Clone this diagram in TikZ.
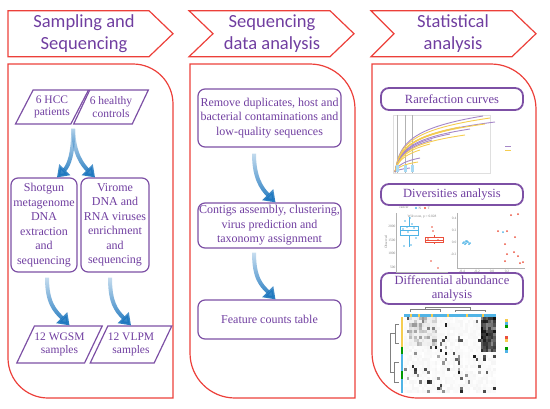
\documentclass[tikz,border=0pt]{standalone}
\usepackage{fontspec}
\setmainfont{Liberation Serif}
\newfontfamily\headfont{Carlito}
\usetikzlibrary{shapes.geometric,arrows.meta,fadings}
\definecolor{panelred}{RGB}{236,64,58}
\definecolor{boxpurple}{RGB}{125,80,165}
\definecolor{txtpurple}{RGB}{112,62,160}
\definecolor{arrowblue}{RGB}{28,118,190}
\definecolor{curvepurple}{RGB}{165,135,200}
\definecolor{curveyellow}{RGB}{245,205,80}
\definecolor{ptblue}{RGB}{80,180,230}
\definecolor{ptred}{RGB}{235,80,60}
\tikzfading[name=arrowfade, top color=transparent!85, bottom color=transparent!0]
\tikzstyle{panel} = [draw=panelred, line width=1.2pt]
\tikzstyle{headtext} = [text=txtpurple, align=center, font=\headfont\fontsize{18.5}{22}\selectfont]
\tikzstyle{block} = [rectangle, rounded corners=7pt, draw=boxpurple, line width=1.2pt, text=txtpurple, align=center, font=\fontsize{12}{14.5}\selectfont, inner sep=1pt]
\tikzstyle{title} = [block, line width=1.8pt, rounded corners=8pt, font=\fontsize{12.5}{14}\selectfont, minimum width=142pt]
\tikzstyle{sample} = [trapezium, trapezium stretches body=true, trapezium left angle=52, trapezium right angle=128, draw=boxpurple, line width=1.2pt, text=txtpurple, align=center, font=\fontsize{11.5}{12.5}\selectfont, inner sep=0pt]
\tikzstyle{flow} = [arrowblue, line width=4pt, path fading=arrowfade, -{Triangle[width=15pt,length=11pt]}]
\tikzstyle{tick} = [font=\fontsize{3.5}{4}\selectfont, text=gray, inner sep=0.5pt]

\begin{document}
\begin{tikzpicture}[x=1pt, y=-1pt]
\useasboundingbox (0,0) rectangle (550,408);

% headers
\draw[panel] (8,10.7) -- (149,10.7) -- (173,33.7) -- (149,56.7) -- (8,56.7) -- cycle;
\draw[panel] (189,10.7) -- (330,10.7) -- (354,33.7) -- (330,56.7) -- (189,56.7) -- (213,33.7) -- cycle;
\draw[panel] (371,10.7) -- (512,10.7) -- (536,33.7) -- (512,56.7) -- (371,56.7) -- (394,33.7) -- cycle;
\node (head1) [headtext] at (84,34) {Sampling and\\Sequencing};
\node (head2) [headtext] at (272,34) {Sequencing\\data analysis};
\node (head3) [headtext] at (453,34) {Statistical\\analysis};

% panels
\draw[panel] (8,64) -- (133,64) arc[start angle=-90, end angle=0, radius=40] -- (173,398) -- (48,398) arc[start angle=90, end angle=180, radius=40] -- cycle;
\draw[panel] (190,64) -- (310,64) arc[start angle=-90, end angle=0, radius=45] -- (355,398) -- (235,398) arc[start angle=90, end angle=180, radius=45] -- cycle;
\draw[panel] (372,64) -- (491,64) arc[start angle=-90, end angle=0, radius=45] -- (536,398) -- (417,398) arc[start angle=90, end angle=180, radius=45] -- cycle;

% sampling and sequencing
\node (hcc) [sample, minimum width=73pt, minimum height=34pt] at (52,107) {6 HCC\\patients};
\node (healthy) [sample, minimum width=73pt, minimum height=34pt] at (111,107) {6 healthy\\controls};
\node (shotgun) [block, minimum width=66pt, minimum height=94pt] at (44,225) {Shotgun\\metagenome\\DNA\\extraction\\and\\sequencing};
\node (virome) [block, minimum width=68pt, minimum height=94pt] at (115,225) {Virome\\DNA and\\RNA viruses\\enrichment\\and\\sequencing};
\node (wgsm) [sample, minimum width=85pt, minimum height=37pt] at (59.5,344.5) {12 WGSM\\samples};
\node (vlpm) [sample, minimum width=80pt, minimum height=37pt] at (131,344.5) {12 VLPM\\samples};
\coordinate (split) at ([shift={(2pt,-4pt)}]hcc.bottom right corner);
\draw[flow] (split) .. controls +(0,25) and +(12,-12) .. ([xshift=13pt]shotgun.north);
\draw[flow] (split) .. controls +(0,25) and +(-12,-12) .. ([xshift=-20pt]virome.north);
\draw[flow, shorten <=5pt] ([xshift=3pt]shotgun.south) .. controls +(0,30) and +(-15,-15) .. ([xshift=10pt]wgsm.north);
\draw[flow, shorten <=5pt] ([xshift=-5pt]virome.south) .. controls +(0,30) and +(-15,-15) .. (vlpm.north);

% sequencing data analysis
\node (clean) [block, minimum width=143pt, minimum height=58pt] at (269.5,118) {Remove duplicates, host and\\bacterial contaminations and\\low-quality sequences};
\node (contigs) [block, minimum width=143pt, minimum height=45pt] at (269.5,225.5) {Contigs assembly, clustering,\\virus prediction and\\taxonomy assignment};
\node (counts) [block, minimum width=143pt, minimum height=39pt] at (269.5,319.5) {Feature counts table};
\draw[flow, shorten <=6pt] ([xshift=-15.5pt]clean.south) .. controls +(0,30) and +(-14,-14) .. ([xshift=6pt]contigs.north);
\draw[flow, shorten <=4pt] ([xshift=-15.5pt]contigs.south) .. controls +(0,30) and +(-14,-14) .. ([xshift=6pt]counts.north);

% statistical analysis
\node (rare) [title, minimum height=22pt] at (452,99) {Rarefaction curves};
\node (div) [title, minimum height=21pt] at (452,194.5) {Diversities analysis};
\node (diff) [title, minimum height=31pt, inner sep=2pt] at (452,288.5) {Differential abundance\\analysis};

% rarefaction plot
\draw[gray!25, line width=0.3pt] (393,115) rectangle (490,173);
\foreach \gx in {397,405,412}
  \draw[gray!60, line width=0.4pt] (\gx,115) -- (\gx,173);
\foreach \xe/\ye/\c in {483/116/curvepurple, 490/118/curveyellow, 495/122/curvepurple, 485/124/curveyellow, 460/127/curveyellow, 470/129/curvepurple, 465/135/curveyellow, 450/134/curvepurple, 445/131/curveyellow, 432/140/curvepurple, 430/144/curveyellow, 420/150/curveyellow, 420/158/curvepurple, 418/162/curveyellow, 410/168/curvepurple}
  \draw[\c, line width=0.9pt] plot[domain=395:\xe, samples=30, smooth] (\x, {172-(172-\ye)*ln(1+(\x-395)/2)/ln(1+(\xe-395)/2)});
\foreach \gx in {397,405,412}
  \fill[ptblue!50] (\gx-1.5,165) rectangle (\gx+1.5,172);
\draw[curvepurple, line width=0.6pt] (505,146) -- (511,146);
\draw[curveyellow, line width=0.6pt] (505,150) -- (511,150);

% boxplot
\node[tick] at (404,208) {cancer};
\fill[ptblue] (416,208) circle (1.2);
\node[tick] at (420,208) {N};
\fill[ptred] (425,208) circle (1.2);
\node[tick] at (429,208) {T};
\node[tick] at (422,217) {Wilcoxon, p = 0.028};
\draw[gray!60, line width=0.3pt] (396,213) -- (396,272) -- (448,272);
\foreach \t/\yy in {2000/226, 1500/240, 1000/253, 500/267}
  \node[tick, anchor=east] at (396,\yy) {\t};
\node[tick, rotate=90] at (386,242) {Observed};
\draw[ptblue, line width=0.5pt] (409,217) -- (409,226) (409,235) -- (409,247) (400,226) rectangle (418,235) (400,230) -- (418,230);
\draw[ptred, line width=0.5pt] (434,235) -- (434,237) (434,242) -- (434,244) (425,237) rectangle (443,242) (425,240) -- (443,240);
\foreach \px/\py in {405/221, 410/218, 412/224, 403/229, 414/228, 408/232, 411/245, 404/246, 416/238, 407/227}
  \fill[ptblue] (\px,\py) circle (0.9);
\foreach \px/\py in {432/227, 433/231, 428/239, 438/240, 431/261, 438/268}
  \fill[ptred] (\px,\py) circle (0.9);

% ordination plot
\draw[gray!60, line width=0.3pt] (457,213) -- (457,268) -- (525,268);
\foreach \t/\yy in {0.4/218, 0.2/230, 0.0/242, -0.2/254}
  \node[tick, anchor=east] at (457,\yy) {\t};
\foreach \t/\xx in {-0.4/462, -0.2/477, 0.0/492, 0.2/507}
  \node[tick, anchor=north] at (\xx,269) {\t};
\foreach \px/\py in {464/242, 466/243, 468/242, 465/244, 467/241, 469/244, 463/243, 466/241, 470/243}
  \fill[ptblue] (\px,\py) circle (1);
\fill[ptblue] (503,232) circle (1);
\foreach \px/\py in {511/215, 518/214, 498/231, 507/231, 515/237, 505/244, 514/252, 507/254, 518/256, 520/263, 523/262, 505/261}
  \fill[ptred] (\px,\py) circle (1);

% heatmap
\pgfmathsetseed{7}
\foreach \r in {0,...,23}{
  \foreach \c in {0,...,35}{
    \pgfmathsetmacro{\v}{(\c>29 && \r<11) ? 45+50*rnd : ((\c<13 && \c>1 && \r<9) ? 5+45*rnd^3 : (rnd>0.91 ? 30+60*rnd : 4*rnd))}
    \fill[black!\v] (404+\c*2.556, 317+\r*3.17) rectangle ++(2.556,3.17);
  }
}
\fill[ptblue] (404,313.5) rectangle (496,316.5);
\foreach \yx in {410,418,431,447,466,482}
  \fill[curveyellow] (\yx,313.5) rectangle ++(2,3);
\fill[curveyellow] (400.5,317) rectangle (403,347);
\fill[green!60!black] (400.5,347) rectangle (403,354);
\fill[ptblue] (400.5,354) rectangle (403,371);
\fill[green!60!black] (400.5,371) rectangle (403,379);
\fill[ptblue] (400.5,379) rectangle (403,393);
\draw[gray, line width=0.3pt] (410,312) -- (410,309) -- (440,309) -- (440,312) (425,309) -- (425,307) -- (470,307) -- (470,310) (455,310) -- (485,310) (455,310) -- (455,312) (485,310) -- (485,312);
\draw[gray, line width=0.3pt] (399,324) -- (395,324) -- (395,343) -- (399,343) (395,333) -- (390,333) -- (390,372) -- (394,372) (394,362) -- (394,382) (394,362) -- (399,362) (394,382) -- (399,382);
\foreach \ly/\lc in {319/curveyellow, 322/ptblue, 325/green!60!black, 336/ptred, 339/curveyellow, 347/green!60!black, 350/ptblue}
  \fill[\lc] (505,\ly) rectangle ++(2.5,2.5);
\end{tikzpicture}
\end{document}
